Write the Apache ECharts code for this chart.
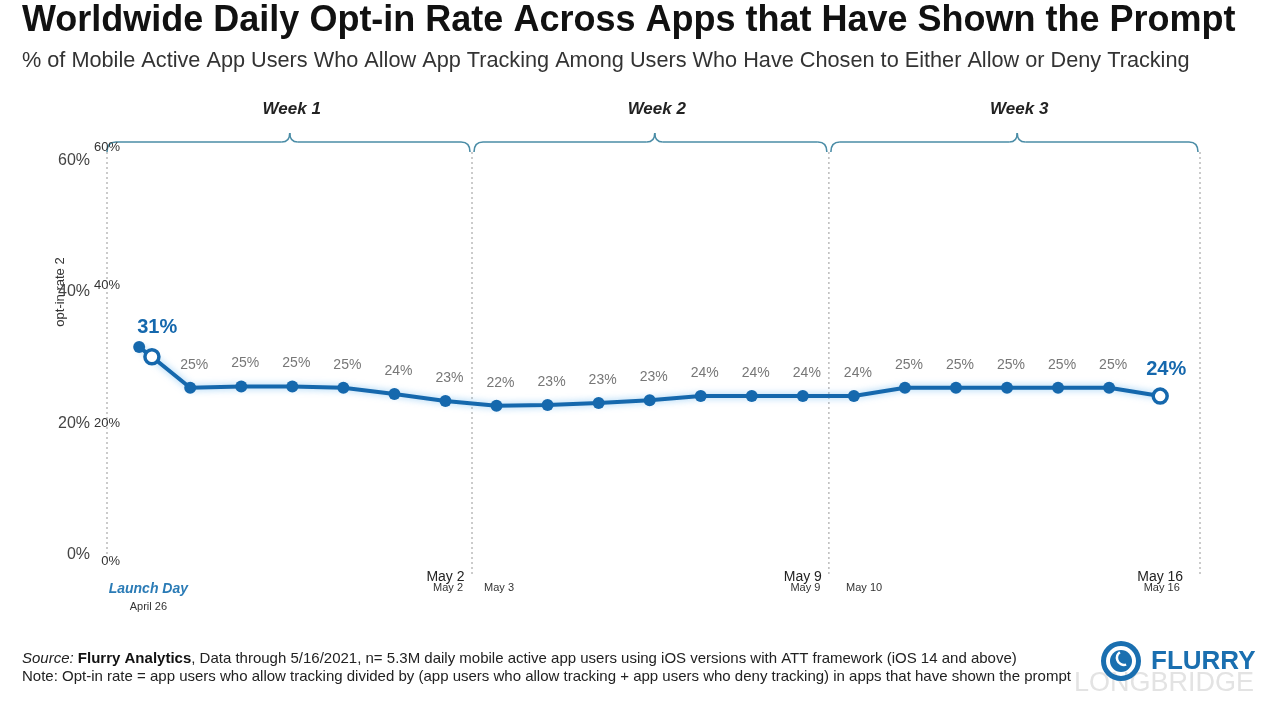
<!DOCTYPE html>
<html><head><meta charset="utf-8">
<script src="https://cdn.jsdelivr.net/npm/echarts@6/dist/echarts.min.js"></script>
<style>html,body{margin:0;padding:0;background:#fff}#c{width:1280px;height:712px}</style>
</head><body><div id="c"></div><script>
const titleText = 'Worldwide Daily Opt-in Rate Across Apps that Have Shown the Prompt';
const subtitleText = '% of Mobile Active App Users Who Allow App Tracking Among Users Who Have Chosen to Either Allow or Deny Tracking';
const yAxisName = 'opt-in rate 2';
// days since launch (April 26 = 0)
const dayOffsets = [0, 0.25, 1, 2, 3, 4, 5, 6, 7, 8, 9, 10, 11, 12, 13, 14, 15, 16, 17, 18, 19, 20];
const optInRate  = [31.0, 29.6, 25.1, 25.3, 25.3, 25.1, 24.2, 23.2, 22.5, 22.6, 22.9, 23.3, 23.9, 23.9, 23.9, 23.9, 25.1, 25.1, 25.1, 25.1, 25.1, 23.9];
const pointLabels = ['31%', '', '25%', '25%', '25%', '25%', '24%', '23%', '22%', '23%', '23%', '23%', '24%', '24%', '24%', '24%', '25%', '25%', '25%', '25%', '25%', '24%'];
const hollowPoints = [1, 21];
const highlightPoints = [0, 21];
const yTicks = [0, 20, 40, 60];
const yTickLabels = ['0%', '20%', '40%', '60%'];
const weekNames = ['Week 1', 'Week 2', 'Week 3'];
const weekBounds = [-0.63, 6.52, 13.51, 20.78];
const weekCenters = [2.95, 10.1, 17.2];
const bigDateTicks = [6, 13, 20];
const bigDateLabels = ['May 2', 'May 9', 'May 16'];
const smallDateTicks = [0.18, 6.05, 7.05, 13.05, 14.2, 20.03];
const smallDateLabels = ['April 26', 'May 2', 'May 3', 'May 9', 'May 10', 'May 16'];
const launchLabel = 'Launch Day';
const sourceLine = '{i|Source:} {b|Flurry Analytics}, Data through 5/16/2021, n= 5.3M daily mobile active app users using iOS versions with ATT framework (iOS 14 and above)';
const noteLine = 'Note: Opt-in rate = app users who allow tracking divided by (app users who allow tracking + app users who deny tracking) in apps that have shown the prompt';

const BLUE = '#1568ad';
const FONT = '"Liberation Sans", Arial, sans-serif';

const chart = echarts.init(document.getElementById('c'), null, {renderer: 'canvas'});

const seriesData = dayOffsets.map((d, i) => {
  const hollow = hollowPoints.includes(i);
  const hi = highlightPoints.includes(i);
  const item = {
    value: [d, optInRate[i]],
    symbol: 'circle',
    symbolSize: hollow ? 14 : 12,
    itemStyle: hollow ? {color: '#fff', borderColor: BLUE, borderWidth: 3.5} : {color: BLUE, borderWidth: 0},
    label: {show: pointLabels[i] !== '', formatter: pointLabels[i]}
  };
  if (hi) {
    item.label.fontSize = 20;
    item.label.fontWeight = 'bold';
    item.label.color = BLUE;
    item.label.offset = i === 0 ? [18, 0] : [6, 0];
    item.label.distance = i === 0 ? 4 : 8;
  }
  return item;
});

const option = {
  animation: false,
  backgroundColor: '#fff',
  textStyle: {fontFamily: FONT},
  grid: {left: 107, right: 80, top: 147, bottom: 151},
  xAxis: [
    {type: 'value', min: weekBounds[0], max: weekBounds[3], splitLine: {show: false},
     axisLine: {show: false}, axisTick: {show: false},
     axisLabel: {customValues: bigDateTicks, formatter: v => bigDateLabels[bigDateTicks.indexOf(v)] || '',
       fontSize: 14, color: '#222', margin: 9}},
    {type: 'value', min: weekBounds[0], max: weekBounds[3], position: 'bottom', splitLine: {show: false},
     axisLine: {show: false}, axisTick: {show: false},
     axisLabel: {customValues: smallDateTicks, margin: 20,
       formatter: v => { const k = smallDateTicks.indexOf(v); if (k === 0) return '{ld|' + launchLabel + '}\n{ap|' + smallDateLabels[0] + '}'; return '{sm|' + (smallDateLabels[k] || '') + '}'; },
       rich: {
         ld: {fontSize: 14, fontWeight: 'bold', fontStyle: 'italic', color: '#2a7bb6', lineHeight: 16, fontFamily: FONT},
         ap: {fontSize: 11, color: '#333', lineHeight: 20, fontFamily: FONT},
         sm: {fontSize: 11, color: '#333', lineHeight: 13, fontFamily: FONT}
       }}}
  ],
  yAxis: [
    {type: 'value', min: 0, max: 60, interval: 20, offset: -15, splitLine: {show: false},
     axisLine: {show: false}, axisTick: {show: false},
     axisLabel: {formatter: v => yTickLabels[yTicks.indexOf(v)], fontSize: 13, color: '#333', margin: 2}},
    {type: 'value', min: -0.91, max: 62.0, position: 'left', splitLine: {show: false},
     axisLine: {show: false}, axisTick: {show: false},
     axisLabel: {customValues: yTicks, formatter: v => yTickLabels[yTicks.indexOf(v)], fontSize: 16, color: '#444', margin: 17}}
  ],
  series: [{
    type: 'line',
    xAxisIndex: 0, yAxisIndex: 0,
    data: seriesData,
    lineStyle: {width: 4, color: BLUE, shadowColor: 'rgba(60,160,235,0.55)', shadowBlur: 7},
    label: {show: true, position: 'top', distance: 10, offset: [4, 0], fontSize: 14, color: '#777', fontFamily: FONT},
    emphasis: {disabled: true},
    z: 5
  }]
};
chart.setOption(option);

function px(x, y) { return chart.convertToPixel({xAxisIndex: 0, yAxisIndex: 0}, [x, y]); }

const graphics = [];
// title & subtitle
graphics.push({type: 'text', x: 22, y: 21, style: {text: titleText, font: 'bold 36px ' + FONT, fill: '#111', verticalAlign: 'middle'}});
graphics.push({type: 'text', x: 22, y: 61, style: {text: subtitleText, font: '21.7px ' + FONT, fill: '#333', verticalAlign: 'middle'}});
// y axis name
graphics.push({type: 'text', x: 60, y: 292, rotation: Math.PI / 2, style: {text: yAxisName, font: '13px ' + FONT, fill: '#333', align: 'center', verticalAlign: 'middle'}});

const topPx = px(0, 60)[1];
const botPx = px(0, 0)[1];
// dotted week divider lines
weekBounds.forEach((b, i) => {
  const x = px(b, 0)[0];
  graphics.push({type: 'line', shape: {x1: x, y1: topPx + 5, x2: x, y2: botPx + (i === 0 ? -2 : 14)},
    style: {stroke: '#bbb', lineWidth: 1.5, lineDash: [2, 3]}});
});
// week braces and labels
const lineY = topPx - 5, peakY = topPx - 14, endY = topPx + 5;
const braceStyle = {stroke: '#4a8ca6', lineWidth: 1.6, fill: null};
for (let w = 0; w < 3; w++) {
  const x0 = px(weekBounds[w], 0)[0] + (w === 0 ? 0 : 2);
  const x1 = px(weekBounds[w + 1], 0)[0] - 2;
  const xm = px(weekCenters[w], 0)[0];
  graphics.push({type: 'bezierCurve', shape: {x1: x0, y1: endY, x2: x0 + 9, y2: lineY, cpx1: x0, cpy1: lineY}, style: braceStyle});
  graphics.push({type: 'line', shape: {x1: x0 + 9, y1: lineY, x2: xm - 8, y2: lineY}, style: braceStyle});
  graphics.push({type: 'bezierCurve', shape: {x1: xm - 8, y1: lineY, x2: xm, y2: peakY, cpx1: xm, cpy1: lineY}, style: braceStyle});
  graphics.push({type: 'bezierCurve', shape: {x1: xm, y1: peakY, x2: xm + 8, y2: lineY, cpx1: xm, cpy1: lineY}, style: braceStyle});
  graphics.push({type: 'line', shape: {x1: xm + 8, y1: lineY, x2: x1 - 9, y2: lineY}, style: braceStyle});
  graphics.push({type: 'bezierCurve', shape: {x1: x1 - 9, y1: lineY, x2: x1, y2: endY, cpx1: x1, cpy1: lineY}, style: braceStyle});
  graphics.push({type: 'text', x: xm + 2, y: lineY - 33, style: {text: weekNames[w], font: 'italic bold 17px ' + FONT, fill: '#222', align: 'center', verticalAlign: 'middle'}});
}
// footer
graphics.push({type: 'text', x: 22, y: 659, style: {text: sourceLine, font: '15px ' + FONT, fill: '#222', verticalAlign: 'middle',
  rich: {i: {fontStyle: 'italic', fontSize: 15, fontFamily: FONT, fill: '#222'}, b: {fontWeight: 'bold', fontSize: 15, fontFamily: FONT, fill: '#111'}}}});
graphics.push({type: 'text', x: 22, y: 677, style: {text: noteLine, font: '15px ' + FONT, fill: '#222', verticalAlign: 'middle'}});
// watermark
graphics.push({type: 'text', x: 1074, y: 684, style: {text: 'LONGBRIDGE', font: '27px ' + FONT, fill: '#e3e3e3', verticalAlign: 'middle'}});
// flurry logo
graphics.push({type: 'ring', shape: {cx: 1121, cy: 661, r: 20, r0: 15}, style: {fill: '#1a6fb0'}});
graphics.push({type: 'circle', shape: {cx: 1121, cy: 661, r: 11}, style: {fill: '#1a6fb0'}});
graphics.push({type: 'arc', shape: {cx: 1124, cy: 658, r: 7, startAngle: Math.PI * 0.4, endAngle: Math.PI * 1.3}, style: {stroke: '#fff', lineWidth: 2.5, fill: null}});
graphics.push({type: 'text', x: 1151, y: 662, style: {text: 'FLURRY', font: 'bold 26px ' + FONT, fill: '#1a6fb0', verticalAlign: 'middle'}});

chart.setOption({graphic: graphics});
</script></body></html>
